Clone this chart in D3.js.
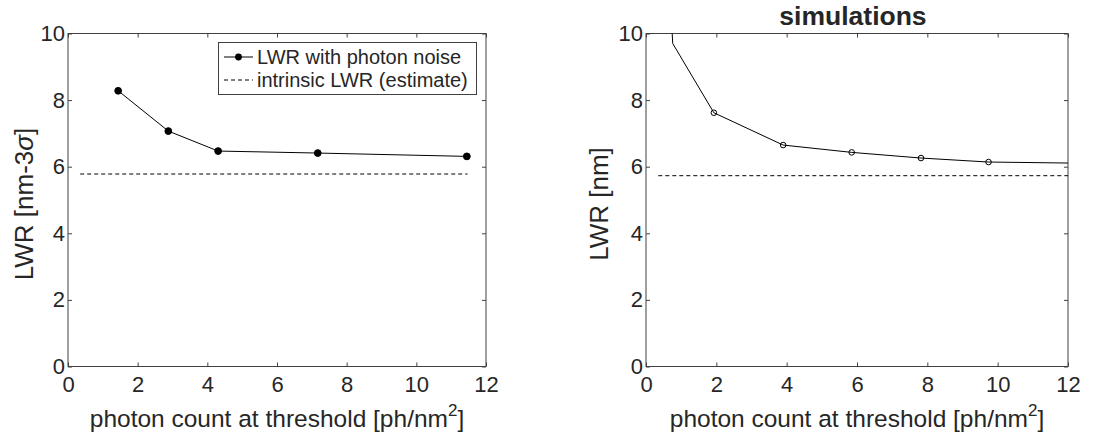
<!DOCTYPE html>
<html>
<head>
<meta charset="utf-8">
<script src="https://cdn.jsdelivr.net/npm/d3@7"></script>
<style>
  body { margin: 0; background: #fff; }
  text { font-family: "Liberation Sans", Arial, Helvetica, sans-serif; fill: #262626; }
</style>
</head>
<body>
<div id="display"></div>
<script>
/* data */
var xTicks = [0, 2, 4, 6, 8, 10, 12];
var yTicks = [0, 2, 4, 6, 8, 10];

var measuredX = [1.44, 2.88, 4.31, 7.17, 11.45];
var measuredLWR = [8.28, 7.07, 6.47, 6.41, 6.31];
var measuredIntrinsic = 5.78;
var measuredIntrinsicRange = [0.35, 11.47];

var simMarkX = [1.93, 3.90, 5.85, 7.82, 9.74];
var simMarkLWR = [7.62, 6.65, 6.43, 6.26, 6.14];
var simCurveX = [0.72, 0.76, 1.93, 3.90, 5.85, 7.82, 9.74, 12];
var simCurveLWR = [10.5, 9.7, 7.62, 6.65, 6.43, 6.26, 6.14, 6.11];
var simIntrinsic = 5.73;
var simIntrinsicRange = [0.35, 12];

var legendLabels = ['LWR with photon noise', 'intrinsic LWR (estimate)'];

var svg = d3.select('#display')
    .append('svg')
    .attr('width', 1112)
    .attr('height', 437);

function zip(xs, ys) {
    return xs.map(function(x, i) { return {x: x, y: ys[i]}; });
}

function drawPanel(p) {
    var xScale = d3.scaleLinear().domain([0, 12]).range([p.left, p.right]);
    var yScale = d3.scaleLinear().domain([0, 10]).range([p.bottom, p.top]);

    var clipId = 'clip-' + p.id;
    svg.append('clipPath').attr('id', clipId)
        .append('rect')
        .attr('x', p.left).attr('y', p.top)
        .attr('width', p.right - p.left).attr('height', p.bottom - p.top);

    var g = svg.append('g').attr('class', 'panel-' + p.id);

    // box
    g.append('rect')
        .attr('x', p.left).attr('y', p.top)
        .attr('width', p.right - p.left).attr('height', p.bottom - p.top)
        .attr('fill', 'none').attr('stroke', '#404040').attr('stroke-width', 1);

    var xAxis = d3.axisBottom(xScale).tickValues(xTicks).tickSize(-4).tickSizeOuter(0).tickPadding(10);
    var xTop = d3.axisTop(xScale).tickValues(xTicks).tickSize(-4).tickSizeOuter(0).tickFormat('');
    var yAxis = d3.axisLeft(yScale).tickValues(yTicks).tickSize(-4).tickSizeOuter(0).tickPadding(3);
    var yRight = d3.axisRight(yScale).tickValues(yTicks).tickSize(-4).tickSizeOuter(0).tickFormat('');

    var axes = [
        g.append('g').attr('transform', 'translate(0,' + p.bottom + ')').call(xAxis),
        g.append('g').attr('transform', 'translate(0,' + p.top + ')').call(xTop),
        g.append('g').attr('transform', 'translate(' + p.left + ',0)').call(yAxis),
        g.append('g').attr('transform', 'translate(' + p.right + ',0)').call(yRight)
    ];
    axes.forEach(function(a) {
        a.select('.domain').remove();
        a.selectAll('line').attr('stroke', '#404040');
        a.selectAll('text').attr('font-size', 22).attr('fill', '#262626')
            .attr('font-family', '"Liberation Sans", Arial, sans-serif');
    });

    // x label
    var xl = g.append('text')
        .attr('x', (p.left + p.right) / 2)
        .attr('y', 427)
        .attr('text-anchor', 'middle')
        .attr('font-size', 24.5);
    xl.append('tspan').text('photon count at threshold [ph/nm');
    xl.append('tspan').attr('font-size', 17).attr('dy', -11).text('2');
    xl.append('tspan').attr('dy', 11).text(']');

    // y label
    var yl = g.append('text')
        .attr('transform', 'translate(' + p.yLabelX + ',' + p.yLabelY + ') rotate(-90)')
        .attr('text-anchor', 'middle')
        .attr('font-size', 26);
    yl.append('tspan').text(p.yLabel);
    if (p.yLabelItalic) {
        yl.append('tspan').attr('font-style', 'italic').text(p.yLabelItalic);
        yl.append('tspan').text(']');
    }

    if (p.title) {
        g.append('text')
            .attr('x', (p.left + p.right) / 2 - 4)
            .attr('y', 25)
            .attr('text-anchor', 'middle')
            .attr('font-size', 26.5)
            .attr('font-weight', 'bold')
            .attr('fill', '#000')
            .text(p.title);
    }

    var line = d3.line()
        .x(function(d) { return xScale(d.x); })
        .y(function(d) { return yScale(d.y); });

    var plot = g.append('g').attr('clip-path', 'url(#' + clipId + ')');

    // intrinsic dashed line
    plot.append('line')
        .attr('x1', xScale(p.intrinsicRange[0]))
        .attr('x2', xScale(p.intrinsicRange[1]))
        .attr('y1', yScale(p.intrinsic))
        .attr('y2', yScale(p.intrinsic))
        .attr('stroke', '#000')
        .attr('stroke-width', 1)
        .attr('stroke-dasharray', '4,3');

    plot.append('path')
        .datum(p.curve)
        .attr('d', line)
        .attr('fill', 'none')
        .attr('stroke', '#000')
        .attr('stroke-width', 1);

    plot.selectAll('circle.mark')
        .data(p.marks)
        .enter()
        .append('circle')
        .attr('class', 'mark')
        .attr('cx', function(d) { return xScale(d.x); })
        .attr('cy', function(d) { return yScale(d.y); })
        .attr('r', p.filled ? 3.4 : 2.8)
        .attr('fill', p.filled ? '#000' : 'none')
        .attr('stroke', '#000')
        .attr('stroke-width', 1);
}

drawPanel({
    id: 'measured', left: 68, right: 486, top: 33.5, bottom: 366.5,
    yLabelX: 33, yLabelY: 204, yLabel: 'LWR [nm-3', yLabelItalic: '\u03c3',
    curve: zip(measuredX, measuredLWR), marks: zip(measuredX, measuredLWR), filled: true,
    intrinsic: measuredIntrinsic, intrinsicRange: measuredIntrinsicRange
});

drawPanel({
    id: 'sim', left: 646, right: 1068, top: 33.5, bottom: 366.5,
    yLabelX: 608, yLabelY: 204, yLabel: 'LWR [nm]', title: 'simulations',
    curve: zip(simCurveX, simCurveLWR), marks: zip(simMarkX, simMarkLWR), filled: false,
    intrinsic: simIntrinsic, intrinsicRange: simIntrinsicRange
});

/* legend on the left panel */
var legend = svg.append('g').attr('class', 'legend');
legend.append('rect')
    .attr('x', 218.5).attr('y', 42.5)
    .attr('width', 258).attr('height', 52)
    .attr('fill', '#fff').attr('stroke', '#404040').attr('stroke-width', 1);

var rows = legend.selectAll('g.row')
    .data(legendLabels)
    .enter()
    .append('g')
    .attr('class', 'row')
    .attr('transform', function(d, i) { return 'translate(0,' + (57 + i * 23) + ')'; });

rows.append('line')
    .attr('x1', 224).attr('x2', 253)
    .attr('y1', 0).attr('y2', 0)
    .attr('stroke', '#000').attr('stroke-width', 1)
    .attr('stroke-dasharray', function(d, i) { return i === 1 ? '4,3' : null; });

rows.filter(function(d, i) { return i === 0; })
    .append('circle')
    .attr('cx', 238.5).attr('cy', 0).attr('r', 3.4).attr('fill', '#000');

rows.append('text')
    .attr('x', 257)
    .attr('y', 7)
    .attr('font-size', 20)
    .text(function(d) { return d; });
</script>
</body>
</html>
